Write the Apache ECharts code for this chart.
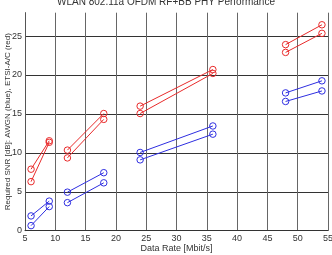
<!DOCTYPE html>
<html>
<head>
<meta charset="utf-8">
<script src="https://cdn.jsdelivr.net/npm/echarts@6/dist/echarts.min.js"></script>
<style>
  html, body { margin: 0; padding: 0; background: #fff; }
  #chart { width: 332px; height: 255px; }
</style>
</head>
<body>
<div id="chart"></div>
<script>
// data rates of 802.11a (Mbit/s)
var rates = [6, 9, 12, 18, 24, 36, 48, 54]
// required SNR, ETSI-A/C channel (red), two curves
var redUpper = [7.9, 11.55, 10.35, 15.05, 16.0, 20.7, 23.9, 26.45]
var redLower = [6.3, 11.35, 9.35, 14.3, 15.05, 20.2, 22.9, 25.35]
// required SNR, AWGN channel (blue), two curves
var blueUpper = [1.9, 3.8, 4.95, 7.45, 10.05, 13.45, 17.7, 19.25]
var blueLower = [0.65, 3.1, 3.6, 6.15, 9.1, 12.4, 16.6, 17.95]
// each modulation is drawn from its lower rate to its higher rate
var segments = [[0, 1], [2, 3], [4, 5], [6, 7]]
var xTicks = [5, 10, 15, 20, 25, 30, 35, 40, 45, 50, 55]

var chart = echarts.init(document.getElementById('chart'))

function buildData(values) {
  var out = []
  segments.forEach(function(s, i) {
    out.push([rates[s[0]], values[s[0]]])
    out.push([rates[s[1]], values[s[1]]])
    if (i < segments.length - 1) {
      out.push([rates[s[1]], '-'])
    }
  })
  return out
}

function makeSeries(values, color) {
  return {
    type: 'line',
    data: buildData(values),
    symbol: 'circle',
    symbolSize: 6.5,
    showSymbol: true,
    connectNulls: false,
    itemStyle: { color: 'rgba(255,255,255,0)', borderColor: color, borderWidth: 1 },
    lineStyle: { color: color, width: 1 },
    animation: false
  }
}

var font = 'Liberation Sans, Arial, sans-serif'

chart.setOption({
  animation: false,
  title: {
    text: 'WLAN 802.11a OFDM RF+BB PHY Performance',
    left: 'center',
    top: -8,
    textStyle: { fontSize: 10, fontWeight: 'normal', color: '#333', fontFamily: font }
  },
  grid: {
    left: 25,
    right: 4,
    top: 12.7,
    bottom: 24.3,
    outerBoundsMode: 'none',
    containLabel: false
  },
  xAxis: {
    type: 'value',
    min: xTicks[0],
    max: xTicks[xTicks.length - 1],
    interval: 5,
    name: 'Data Rate [Mbit/s]',
    nameLocation: 'middle',
    nameGap: 13,
    nameMoveOverlap: false,
    nameTextStyle: { fontSize: 9, color: '#333', fontFamily: font },
    axisLine: { show: true, lineStyle: { color: '#333', width: 1 } },
    axisTick: { show: false },
    axisLabel: { fontSize: 9, color: '#333', margin: 3, fontFamily: font },
    splitLine: { show: true, lineStyle: { color: '#666', width: 1 } }
  },
  yAxis: {
    type: 'value',
    min: 0,
    max: 28,
    interval: 5,
    name: 'Required SNR [dB]: AWGN (blue), ETSI-A/C (red)',
    nameLocation: 'middle',
    nameGap: 13,
    nameMoveOverlap: false,
    nameTextStyle: { fontSize: 8, color: '#333', fontFamily: font },
    axisLine: { show: true, lineStyle: { color: '#555', width: 1 } },
    axisTick: { show: false },
    axisLabel: {
      fontSize: 9, color: '#333', margin: 3, fontFamily: font,
      showMaxLabel: false
    },
    splitLine: {
      show: true,
      lineStyle: { color: ['#333', '#333', '#333', '#333', '#333', '#333', 'rgba(0,0,0,0)'], width: 1 }
    }
  },
  series: [
    makeSeries(redUpper, '#e82a2a'),
    makeSeries(redLower, '#e82a2a'),
    makeSeries(blueUpper, '#2e2ee0'),
    makeSeries(blueLower, '#2e2ee0')
  ]
})
</script>
</body>
</html>
